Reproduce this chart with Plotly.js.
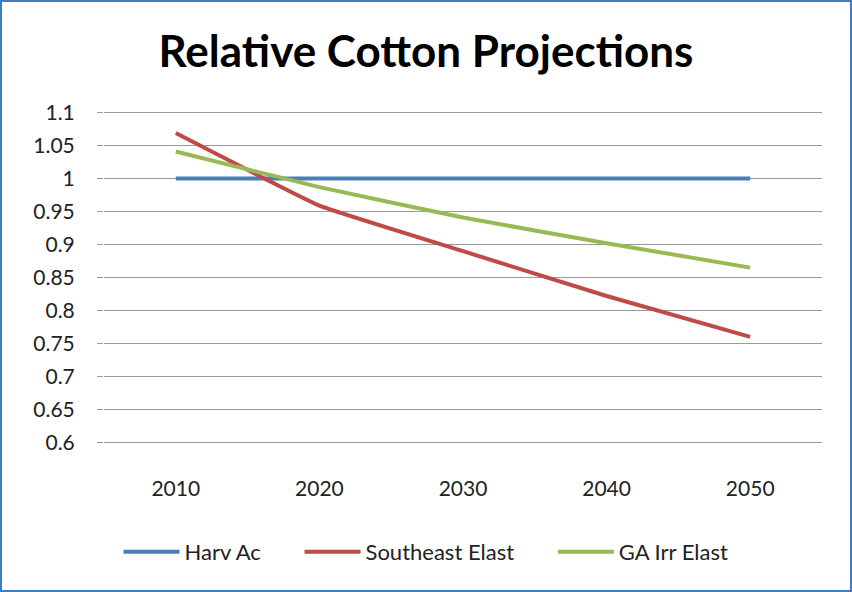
<!DOCTYPE html>
<html>
<head>
<meta charset="utf-8">
<script src="https://cdn.plot.ly/plotly-3.0.1.min.js"></script>
<style>
html,body{margin:0;padding:0;background:#fff;}
#wrap{width:852px;height:592px;box-sizing:border-box;border:2px solid #3d7cc9;position:relative;overflow:hidden;}
#chart{position:absolute;left:-2px;top:-2px;width:852px;height:592px;}
</style>
</head>
<body>
<div id="wrap"><div id="chart"></div></div>
<script>
var years = ['2010', '2020', '2030', '2040', '2050'];
var harvAc = [1, 1, 1, 1, 1];
var southeastElast = [1.069, 0.959, 0.890, 0.822, 0.760];
var gaIrrElast = [1.041, 0.987, 0.941, 0.902, 0.865];
var seriesNames = ['Harv Ac', 'Southeast Elast', 'GA Irr Elast'];
var seriesColors = ['#4a7ebb', '#be4b48', '#98b954'];
var yTicks = [0.6, 0.65, 0.7, 0.75, 0.8, 0.85, 0.9, 0.95, 1, 1.05, 1.1];
var yTickText = ['0.6', '0.65', '0.7', '0.75', '0.8', '0.85', '0.9', '0.95', '1', '1.05', '1.1'];

var font = 'Lato, "Open Sans", sans-serif';
var pad = '\u00a0\u00a0\u00a0\u00a0\u00a0\u00a0';
var allSeries = [harvAc, southeastElast, gaIrrElast];
var traces = allSeries.map(function (vals, i) {
  return {
    x: years, y: vals, type: 'scatter', mode: 'lines',
    name: seriesNames[i] + (i < allSeries.length - 1 ? pad : ''),
    line: {color: seriesColors[i], width: 4, shape: 'spline', smoothing: 0.3}
  };
});

var layout = {
  width: 852, height: 592,
  paper_bgcolor: 'rgba(0,0,0,0)', plot_bgcolor: '#fff',
  margin: {l: 104, r: 30, t: 111, b: 148},
  title: {text: '<b>Relative Cotton Projections</b>', x: 0.5, xanchor: 'center', y: 0.912, yanchor: 'middle',
          font: {family: font, size: 44, color: '#000'}},
  font: {family: font, size: 21, color: '#222'},
  xaxis: {type: 'category', range: [-0.5, 4.5], showgrid: false, showline: false, zeroline: false,
          ticks: '', ticklabelstandoff: 30, tickfont: {family: font, size: 21, color: '#222'}},
  yaxis: {range: [0.5975, 1.1025], tickvals: yTicks, ticktext: yTickText, showgrid: true,
          gridcolor: '#9a9a9a', gridwidth: 1.3, zeroline: false, showline: false,
          ticks: 'outside', ticklen: 6, tickcolor: '#9a9a9a', tickwidth: 1.3, ticklabelstandoff: 18,
          tickfont: {family: font, size: 21, color: '#222'}},
  showlegend: true,
  legend: {orientation: 'h', xref: 'container', x: 0.5, xanchor: 'center', yref: 'container', y: 1 - 552 / 592, yanchor: 'middle',
           font: {family: font, size: 22, color: '#222'}, itemwidth: 56, tracegroupgap: 0}
};

Plotly.newPlot('chart', traces, layout, {displayModeBar: false, staticPlot: true});
</script>
</body>
</html>
